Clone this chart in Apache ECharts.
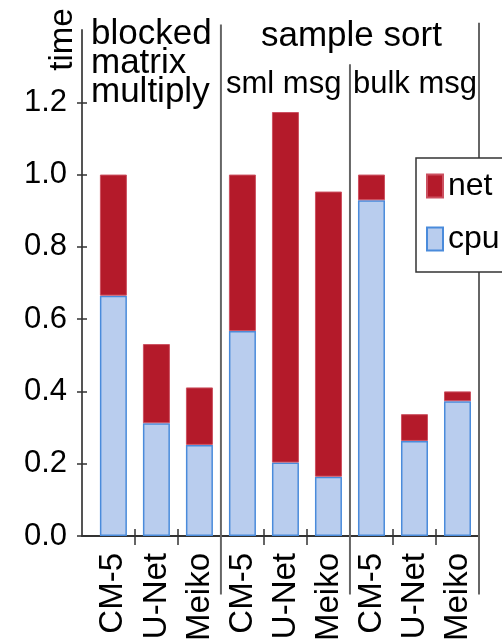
<!DOCTYPE html>
<html>
<head>
<meta charset="utf-8">
<script src="https://cdn.jsdelivr.net/npm/echarts@6/dist/echarts.min.js"></script>
<style>html,body{margin:0;padding:0;background:#fff}#c{width:502px;height:644px}</style>
</head>
<body>
<div id="c"></div>
<script>
// ---- data ----
var categories = ['CM-5', 'U-Net', 'Meiko', 'CM-5', 'U-Net', 'Meiko', 'CM-5', 'U-Net', 'Meiko'];
var cpuValues = [0.665, 0.312, 0.252, 0.567, 0.203, 0.164, 0.929, 0.263, 0.373];
var netValues = [0.335, 0.219, 0.159, 0.433, 0.970, 0.789, 0.071, 0.074, 0.027];
var yTicks = [0, 0.2, 0.4, 0.6, 0.8, 1.0, 1.2];
var groupTitles = ['blocked\nmatrix\nmultiply', 'sample sort', 'sml msg', 'bulk msg'];
var separatorX = [2.5, 5.5, 8.5];
var separatorTop = [1.415, 1.305, 1.42];
var separatorBottom = [-0.162, -0.162, -0.162];
var minorTickX = [0.5, 1.5, 3.5, 4.5, 6.5, 7.5];

var FONT = 'Liberation Sans, Arial, Helvetica, sans-serif';
var chart = echarts.init(document.getElementById('c'), null, {renderer: 'canvas'});

// value first, position second so that stacking happens on the value dimension
function pairs(vals) { return vals.map(function (v, i) { return [v, i]; }); }
var sepData = separatorX.map(function (x, i) { return [x, separatorTop[i], separatorBottom[i]]; });

var X_MIN = -0.73, X_MAX = 8.5, Y_MIN = 0, Y_MAX = 1.4;

var option = {
  backgroundColor: '#ffffff',
  animation: false,
  textStyle: {fontFamily: FONT},
  title: [
    {text: groupTitles[0], left: 91, top: 20, padding: 0,
      textStyle: {fontSize: 35, fontWeight: 'normal', color: '#000', fontFamily: FONT, lineHeight: 29}},
    {text: groupTitles[1], left: 261, top: 19, padding: 0,
      textStyle: {fontSize: 35, fontWeight: 'normal', color: '#000', fontFamily: FONT, lineHeight: 34}},
    {text: groupTitles[2], left: 226, top: 69, padding: 0,
      textStyle: {fontSize: 31, fontWeight: 'normal', color: '#000', fontFamily: FONT, lineHeight: 31}},
    {text: groupTitles[3], left: 353, top: 69, padding: 0,
      textStyle: {fontSize: 31, fontWeight: 'normal', color: '#000', fontFamily: FONT, lineHeight: 31}}
  ],
  graphic: [
    {type: 'text', x: 63, y: 39.5, rotation: Math.PI / 2,
      style: {text: 'time', fontSize: 33, fontFamily: FONT, fill: '#000', align: 'center', verticalAlign: 'middle'}}
  ],
  legend: {
    data: ['net', 'cpu'],
    orient: 'vertical',
    left: 416, top: 158,
    padding: [12, 10, 17, 10],
    itemWidth: 16, itemHeight: 23, itemGap: 21,
    backgroundColor: '#ffffff',
    borderColor: '#333333', borderWidth: 1.5,
    textStyle: {fontSize: 32, color: '#000', fontFamily: FONT},
    icon: 'rect'
  },
  grid: {left: 82, right: 23, top: 30, bottom: 103, containLabel: false},
  xAxis: [{
    type: 'value', min: X_MIN, max: X_MAX, position: 'bottom',
    splitLine: {show: false},
    axisLine: {show: true, onZero: false, lineStyle: {color: '#333', width: 2}},
    axisTick: {show: true, customValues: minorTickX, length: 9, lineStyle: {color: '#333', width: 1.5}},
    axisLabel: {show: true, customValues: categories.map(function (c, i) { return i; }),
      formatter: function (v) { return categories[Math.round(v)]; },
      rotate: 90, margin: 17, fontSize: 33, color: '#000', fontFamily: FONT}
  }, {
    type: 'value', min: X_MIN, max: X_MAX, position: 'bottom', offset: 0,
    splitLine: {show: false},
    axisLine: {show: false, onZero: false},
    axisTick: {show: true, inside: true, customValues: minorTickX, length: 7, lineStyle: {color: '#333', width: 1.5}},
    axisLabel: {show: false}
  }],
  yAxis: [{
    type: 'value', min: Y_MIN, max: Y_MAX, position: 'left',
    splitLine: {show: false},
    axisLine: {show: true, onZero: false, lineStyle: {color: '#555', width: 2}},
    axisTick: {show: true, customValues: yTicks, length: 5, lineStyle: {color: '#333', width: 1.5}},
    axisLabel: {show: true, customValues: yTicks, margin: 15,
      formatter: function (v) { return v.toFixed(1); },
      fontSize: 31, color: '#000', fontFamily: FONT}
  }, {
    type: 'value', min: Y_MIN, max: Y_MAX, position: 'left', offset: 0,
    splitLine: {show: false},
    axisLine: {show: false, onZero: false},
    axisTick: {show: true, inside: true, customValues: yTicks, length: 5, lineStyle: {color: '#333', width: 1.5}},
    axisLabel: {show: false}
  }],
  series: [
    {name: 'cpu', type: 'bar', stack: 'time', barWidth: 27, data: pairs(cpuValues),
      xAxisIndex: 0, yAxisIndex: 0, encode: {x: 1, y: 0},
      itemStyle: {color: '#b9cdee', borderColor: '#4a8bdb', borderWidth: 1.5}},
    {name: 'net', type: 'bar', stack: 'time', barWidth: 27, data: pairs(netValues),
      xAxisIndex: 0, yAxisIndex: 0, encode: {x: 1, y: 0},
      itemStyle: {color: '#b41a2a', borderColor: '#cc5060', borderWidth: 1}},
    {name: 'separators', type: 'custom', clip: false, silent: true, z: 3,
      xAxisIndex: 0, yAxisIndex: 0,
      data: sepData,
      encode: {x: 0, y: 1},
      renderItem: function (params, api) {
        var p1 = api.coord([api.value(0), api.value(1)]);
        var p2 = api.coord([api.value(0), api.value(2)]);
        return {type: 'line', shape: {x1: p1[0], y1: p1[1], x2: p2[0], y2: p2[1]},
          style: {stroke: '#666', lineWidth: 2}};
      }}
  ]
};
chart.setOption(option);
</script>
</body>
</html>
